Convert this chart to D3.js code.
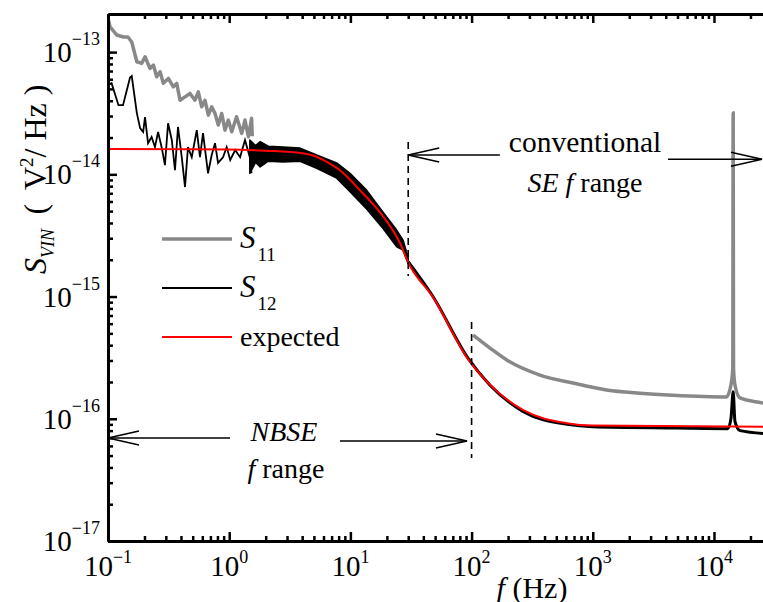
<!DOCTYPE html>
<html>
<head>
<meta charset="utf-8">
<script src="https://cdnjs.cloudflare.com/ajax/libs/d3/7.8.5/d3.min.js"></script>
<style>
  body { margin: 0; background: #fff; }
  text { font-family: "Liberation Serif", "Times New Roman", serif; fill: #000; }
</style>
</head>
<body>
<svg id="chart" width="763" height="602"></svg>
<script>
// S11 (grey) – low frequency part
var s11LowF = [0.1, 0.104, 0.118, 0.134, 0.146, 0.157, 0.173, 0.190, 0.202, 0.222, 0.237, 0.252, 0.269, 0.286, 0.315, 0.346, 0.369, 0.393, 0.432, 0.475, 0.522, 0.556, 0.593, 0.631, 0.673, 0.717, 0.764, 0.813, 0.867, 0.923, 0.984, 1.05, 1.15, 1.27, 1.35, 1.44, 1.53, 1.55];
var s11LowS = [1.90e-13, 1.61e-13, 1.38e-13, 1.33e-13, 1.33e-13, 1.21e-13, 8.34e-14, 8.09e-14, 9.16e-14, 7.36e-14, 7.83e-14, 6.28e-14, 6.90e-14, 5.55e-14, 6.09e-14, 5.20e-14, 5.55e-14, 4.04e-14, 4.30e-14, 4.59e-14, 4.04e-14, 4.73e-14, 3.57e-14, 4.04e-14, 3.05e-14, 3.57e-14, 3.15e-14, 2.53e-14, 3.15e-14, 2.30e-14, 2.78e-14, 2.23e-14, 2.96e-14, 2.16e-14, 2.78e-14, 2.03e-14, 2.87e-14, 2.05e-14];
// S11 – high frequency part
var s11HighF = [103, 142, 195, 367, 687, 1300, 2450, 4590, 12700, 13800, 14300, 14400, 14500, 14900, 16400, 24800, 30000];
var s11HighS = [4.84e-16, 3.79e-16, 3.03e-16, 2.28e-16, 1.96e-16, 1.72e-16, 1.62e-16, 1.56e-16, 1.51e-16, 1.89e-16, 2.6e-16, 3.17e-14, 2.6e-16, 1.89e-16, 1.48e-16, 1.35e-16, 1.3e-16];

// S12 (black) – sparse low frequency part
var s12LowF = [0.1, 0.107, 0.122, 0.133, 0.152, 0.157, 0.173, 0.184, 0.195, 0.202, 0.214, 0.229, 0.244, 0.259, 0.278, 0.295, 0.313, 0.336, 0.357, 0.378, 0.406, 0.432, 0.457, 0.491, 0.540, 0.574, 0.608, 0.669, 0.717, 0.764, 0.809, 0.889, 0.953, 1.02, 1.12, 1.23, 1.35, 1.48, 1.53];
var s12LowS = [5.37e-14, 5.57e-14, 3.68e-14, 3.68e-14, 6.2e-14, 6.37e-14, 3.17e-14, 2.39e-14, 2.22e-14, 2.94e-14, 1.80e-14, 2.02e-14, 1.67e-14, 2.22e-14, 1.64e-14, 1.19e-14, 2.62e-14, 1.91e-14, 1.08e-14, 2.44e-14, 1.38e-14, 7.87e-15, 1.67e-14, 1.38e-14, 2.3e-14, 1.38e-14, 2.17e-14, 1.02e-14, 1.44e-14, 1.80e-14, 1.24e-14, 1.38e-14, 1.67e-14, 1.31e-14, 1.58e-14, 1.38e-14, 1.91e-14, 1.38e-14, 1.02e-14];
// S12 – dense noise band (upper / lower envelope)
var s12BandF = [1.48, 1.65, 1.80, 2.1, 2.78, 3.84, 5.27, 7.71, 9.93, 13.6, 18.6, 24.1, 27.2, 30];
var s12BandHi = [1.91e-14, 1.72e-14, 1.85e-14, 1.70e-14, 1.67e-14, 1.64e-14, 1.44e-14, 1.24e-14, 1.02e-14, 7.43e-15, 4.91e-15, 3.5e-15, 2.9e-15, 2.07e-15];
var s12BandLo = [1.02e-14, 1.25e-14, 1.15e-14, 1.28e-14, 1.26e-14, 1.28e-14, 1.12e-14, 9.3e-15, 7.2e-15, 5.2e-15, 3.6e-15, 2.55e-15, 2.4e-15, 1.85e-15];
// S12 – high frequency part
var s12HighF = [30, 48, 94, 142, 265, 612, 1000, 5000, 13000, 13800, 14400, 14900, 16400, 30000];
var s12HighS = [1.93e-15, 1.0e-15, 3.1e-16, 1.88e-16, 1.15e-16, 9.0e-17, 8.6e-17, 8.4e-17, 8.3e-17, 1.0e-16, 1.66e-16, 9.5e-17, 8.0e-17, 7.5e-17];

// expected (red)
var expectedF = [0.1, 1, 2, 4, 5, 6.5, 8.2, 12, 18.7, 25.6, 30, 48, 94, 142, 265, 612, 1000, 30000];
var expectedS = [1.61e-14, 1.6e-14, 1.56e-14, 1.49e-14, 1.42e-14, 1.25e-14, 1.08e-14, 7.4e-15, 4.5e-15, 2.75e-15, 1.9e-15, 9.9e-16, 3.05e-16, 1.9e-16, 1.18e-16, 9.2e-17, 8.8e-17, 8.6e-17];

var xMajor = [0.1, 1, 10, 100, 1000, 10000];
var xExp = [-1, 0, 1, 2, 3, 4];
var yMajor = [1e-17, 1e-16, 1e-15, 1e-14, 1e-13];
var yExp = [-17, -16, -15, -14, -13];

var svg = d3.select("#chart");
var plotLeft = 108, plotTop = 14, plotBottom = 541, plotRight = 771.8;

var x = d3.scaleLog().domain([0.1, 30000]).range([plotLeft, plotRight]);
var y = d3.scaleLog().domain([1e-17, 2.05e-13]).range([plotBottom, plotTop]);

var minorX = [];
xMajor.forEach(function (d) {
  for (var k = 2; k <= 9; k++) { if (d * k <= 30000) minorX.push(d * k); }
});
var minorY = [];
yMajor.slice(0, 4).forEach(function (d) {
  for (var k = 2; k <= 9; k++) minorY.push(d * k);
});

svg.append("defs").append("clipPath").attr("id", "plotclip")
  .append("rect").attr("x", plotLeft).attr("y", plotTop)
  .attr("width", plotRight - plotLeft).attr("height", plotBottom - plotTop);

var plot = svg.append("g").attr("clip-path", "url(#plotclip)");

function pts(fs, ss) { return fs.map(function (f, i) { return [f, ss[i]]; }); }

var line = d3.line().x(function (d) { return x(d[0]); }).y(function (d) { return y(d[1]); });
var smooth = d3.line().curve(d3.curveMonotoneX)
  .x(function (d) { return x(d[0]); }).y(function (d) { return y(d[1]); });

// S11
plot.append("path").attr("d", line(pts(s11LowF, s11LowS)))
  .attr("fill", "none").attr("stroke", "#888").attr("stroke-width", 3.5).attr("stroke-linejoin", "round");
plot.append("path").attr("d", smooth(pts(s11HighF, s11HighS)))
  .attr("fill", "none").attr("stroke", "#888").attr("stroke-width", 3.5);

// S12
plot.append("path").attr("d", line(pts(s12LowF, s12LowS)))
  .attr("fill", "none").attr("stroke", "#000").attr("stroke-width", 1.8);
var band = d3.area()
  .x(function (d, i) { return x(s12BandF[i]); })
  .y0(function (d, i) { return y(s12BandLo[i]); })
  .y1(function (d, i) { return y(s12BandHi[i]); });
plot.append("path").attr("d", band(s12BandF))
  .attr("fill", "#000").attr("stroke", "#000").attr("stroke-width", 1.5).attr("stroke-linejoin", "round");
plot.append("path").attr("d", smooth(pts(s12HighF, s12HighS)))
  .attr("fill", "none").attr("stroke", "#000").attr("stroke-width", 3);

// expected
plot.append("path").attr("d", smooth(pts(expectedF, expectedS)))
  .attr("fill", "none").attr("stroke", "#ff0000").attr("stroke-width", 2);

// axes
function styleAxis(g, w) {
  g.selectAll("text").remove();
  g.select(".domain").attr("stroke-width", 3);
  g.selectAll(".tick line").attr("stroke-width", w);
}
svg.append("g").attr("transform", "translate(0," + plotBottom + ")")
  .call(d3.axisBottom(x).tickValues(minorX).tickSizeInner(-5).tickSizeOuter(0))
  .call(styleAxis, 2.5);
svg.append("g").attr("transform", "translate(0," + plotBottom + ")")
  .call(d3.axisBottom(x).tickValues(xMajor).tickSizeInner(-9).tickSizeOuter(0))
  .call(styleAxis, 2.5);
svg.append("g").attr("transform", "translate(0," + plotTop + ")")
  .call(d3.axisTop(x).tickValues(minorX).tickSizeInner(-5).tickSizeOuter(0))
  .call(styleAxis, 2.5);
svg.append("g").attr("transform", "translate(0," + plotTop + ")")
  .call(d3.axisTop(x).tickValues(xMajor).tickSizeInner(-9).tickSizeOuter(0))
  .call(styleAxis, 2.5);
svg.append("g").attr("transform", "translate(" + plotLeft + ",0)")
  .call(d3.axisLeft(y).tickValues(minorY).tickSizeInner(-5).tickSizeOuter(0))
  .call(styleAxis, 2.5);
svg.append("g").attr("transform", "translate(" + plotLeft + ",0)")
  .call(d3.axisLeft(y).tickValues(yMajor).tickSizeInner(-9).tickSizeOuter(0))
  .call(styleAxis, 2.5);

function expText(sel, e, dy) {
  sel.append("tspan").text("10");
  sel.append("tspan").attr("font-size", 18).attr("dy", dy)
    .text(e < 0 ? "\u2212" + (-e) : String(e));
}

xMajor.forEach(function (d, i) {
  var t = svg.append("text").attr("x", x(d)).attr("y", 576)
    .attr("text-anchor", "middle").attr("font-size", 29);
  expText(t, xExp[i], -13);
});
yMajor.forEach(function (d, i) {
  var t = svg.append("text").attr("x", 100).attr("y", y(d) + 10)
    .attr("text-anchor", "end").attr("font-size", 29);
  expText(t, yExp[i], -17);
});

// axis titles
var xt = svg.append("text").attr("x", 532).attr("y", 598).attr("text-anchor", "middle").attr("font-size", 30);
xt.append("tspan").attr("font-style", "italic").text("f");
xt.append("tspan").text(" (Hz)");

var yt = svg.append("text").attr("transform", "translate(46,274) rotate(-90)").attr("font-size", 32);
yt.append("tspan").attr("font-style", "italic").text("S");
yt.append("tspan").attr("font-style", "italic").attr("font-size", 18).attr("dy", 8).text("VIN");
yt.append("tspan").attr("dy", -8).text("\u2009 (\u2009 V");
yt.append("tspan").attr("font-size", 19).attr("dy", -13).text("2");
yt.append("tspan").attr("dy", 13).text("/ Hz )");

// annotations
function vdash(f, s0, s1) {
  svg.append("line").attr("x1", x(f)).attr("x2", x(f)).attr("y1", y(s0)).attr("y2", y(s1))
    .attr("stroke", "#000").attr("stroke-width", 1.6).attr("stroke-dasharray", "7,5");
}
vdash(30, 1.84e-14, 1.47e-15);
vdash(100, 6.18e-16, 4.78e-17);

function arrow(fTail, fTip, s) {
  var x0 = x(fTail), x1 = x(fTip), yy = y(s);
  var dir = x1 > x0 ? -1 : 1;
  svg.append("line").attr("x1", x0).attr("x2", x1).attr("y1", yy).attr("y2", yy)
    .attr("stroke", "#000").attr("stroke-width", 1.6);
  svg.append("path")
    .attr("d", "M" + (x1 + dir * 31) + "," + (yy - 7) + "L" + x1 + "," + yy + "L" + (x1 + dir * 31) + "," + (yy + 7))
    .attr("fill", "none").attr("stroke", "#000").attr("stroke-width", 1.6);
}
arrow(171, 30, 1.44e-14);
arrow(4170, 24900, 1.33e-14);
arrow(1.015, 0.1, 6.97e-17);
arrow(8.2, 91.6, 6.58e-17);

svg.append("text").attr("x", 585).attr("y", 152).attr("text-anchor", "middle").attr("font-size", 29.5).text("conventional");
var se = svg.append("text").attr("x", 585).attr("y", 192).attr("text-anchor", "middle").attr("font-size", 28);
se.append("tspan").attr("font-style", "italic").text("SE f");
se.append("tspan").text(" range");

svg.append("text").attr("x", 284).attr("y", 441).attr("text-anchor", "middle").attr("font-size", 28)
  .attr("font-style", "italic").text("NBSE");
var fr = svg.append("text").attr("x", 286).attr("y", 478).attr("text-anchor", "middle").attr("font-size", 28);
fr.append("tspan").attr("font-style", "italic").text("f");
fr.append("tspan").text(" range");

// legend
var legend = [
  { color: "#888", w: 3.5, name: "S", sub: "11" },
  { color: "#000", w: 1.8, name: "S", sub: "12" },
  { color: "#ff0000", w: 2, name: "expected", sub: null }
];
legend.forEach(function (d, i) {
  var ly = 239 + i * 49;
  svg.append("line").attr("x1", 162).attr("x2", 232).attr("y1", ly).attr("y2", ly)
    .attr("stroke", d.color).attr("stroke-width", d.w);
  var t = svg.append("text").attr("x", 240).attr("y", ly + 9).attr("font-size", d.sub ? 31 : 28);
  if (d.sub) {
    t.append("tspan").attr("font-style", "italic").text(d.name);
    t.append("tspan").attr("font-size", 19).attr("dy", 13).attr("dx", 2).text(d.sub);
  } else {
    t.append("tspan").text(d.name);
  }
});
</script>
</body>
</html>
